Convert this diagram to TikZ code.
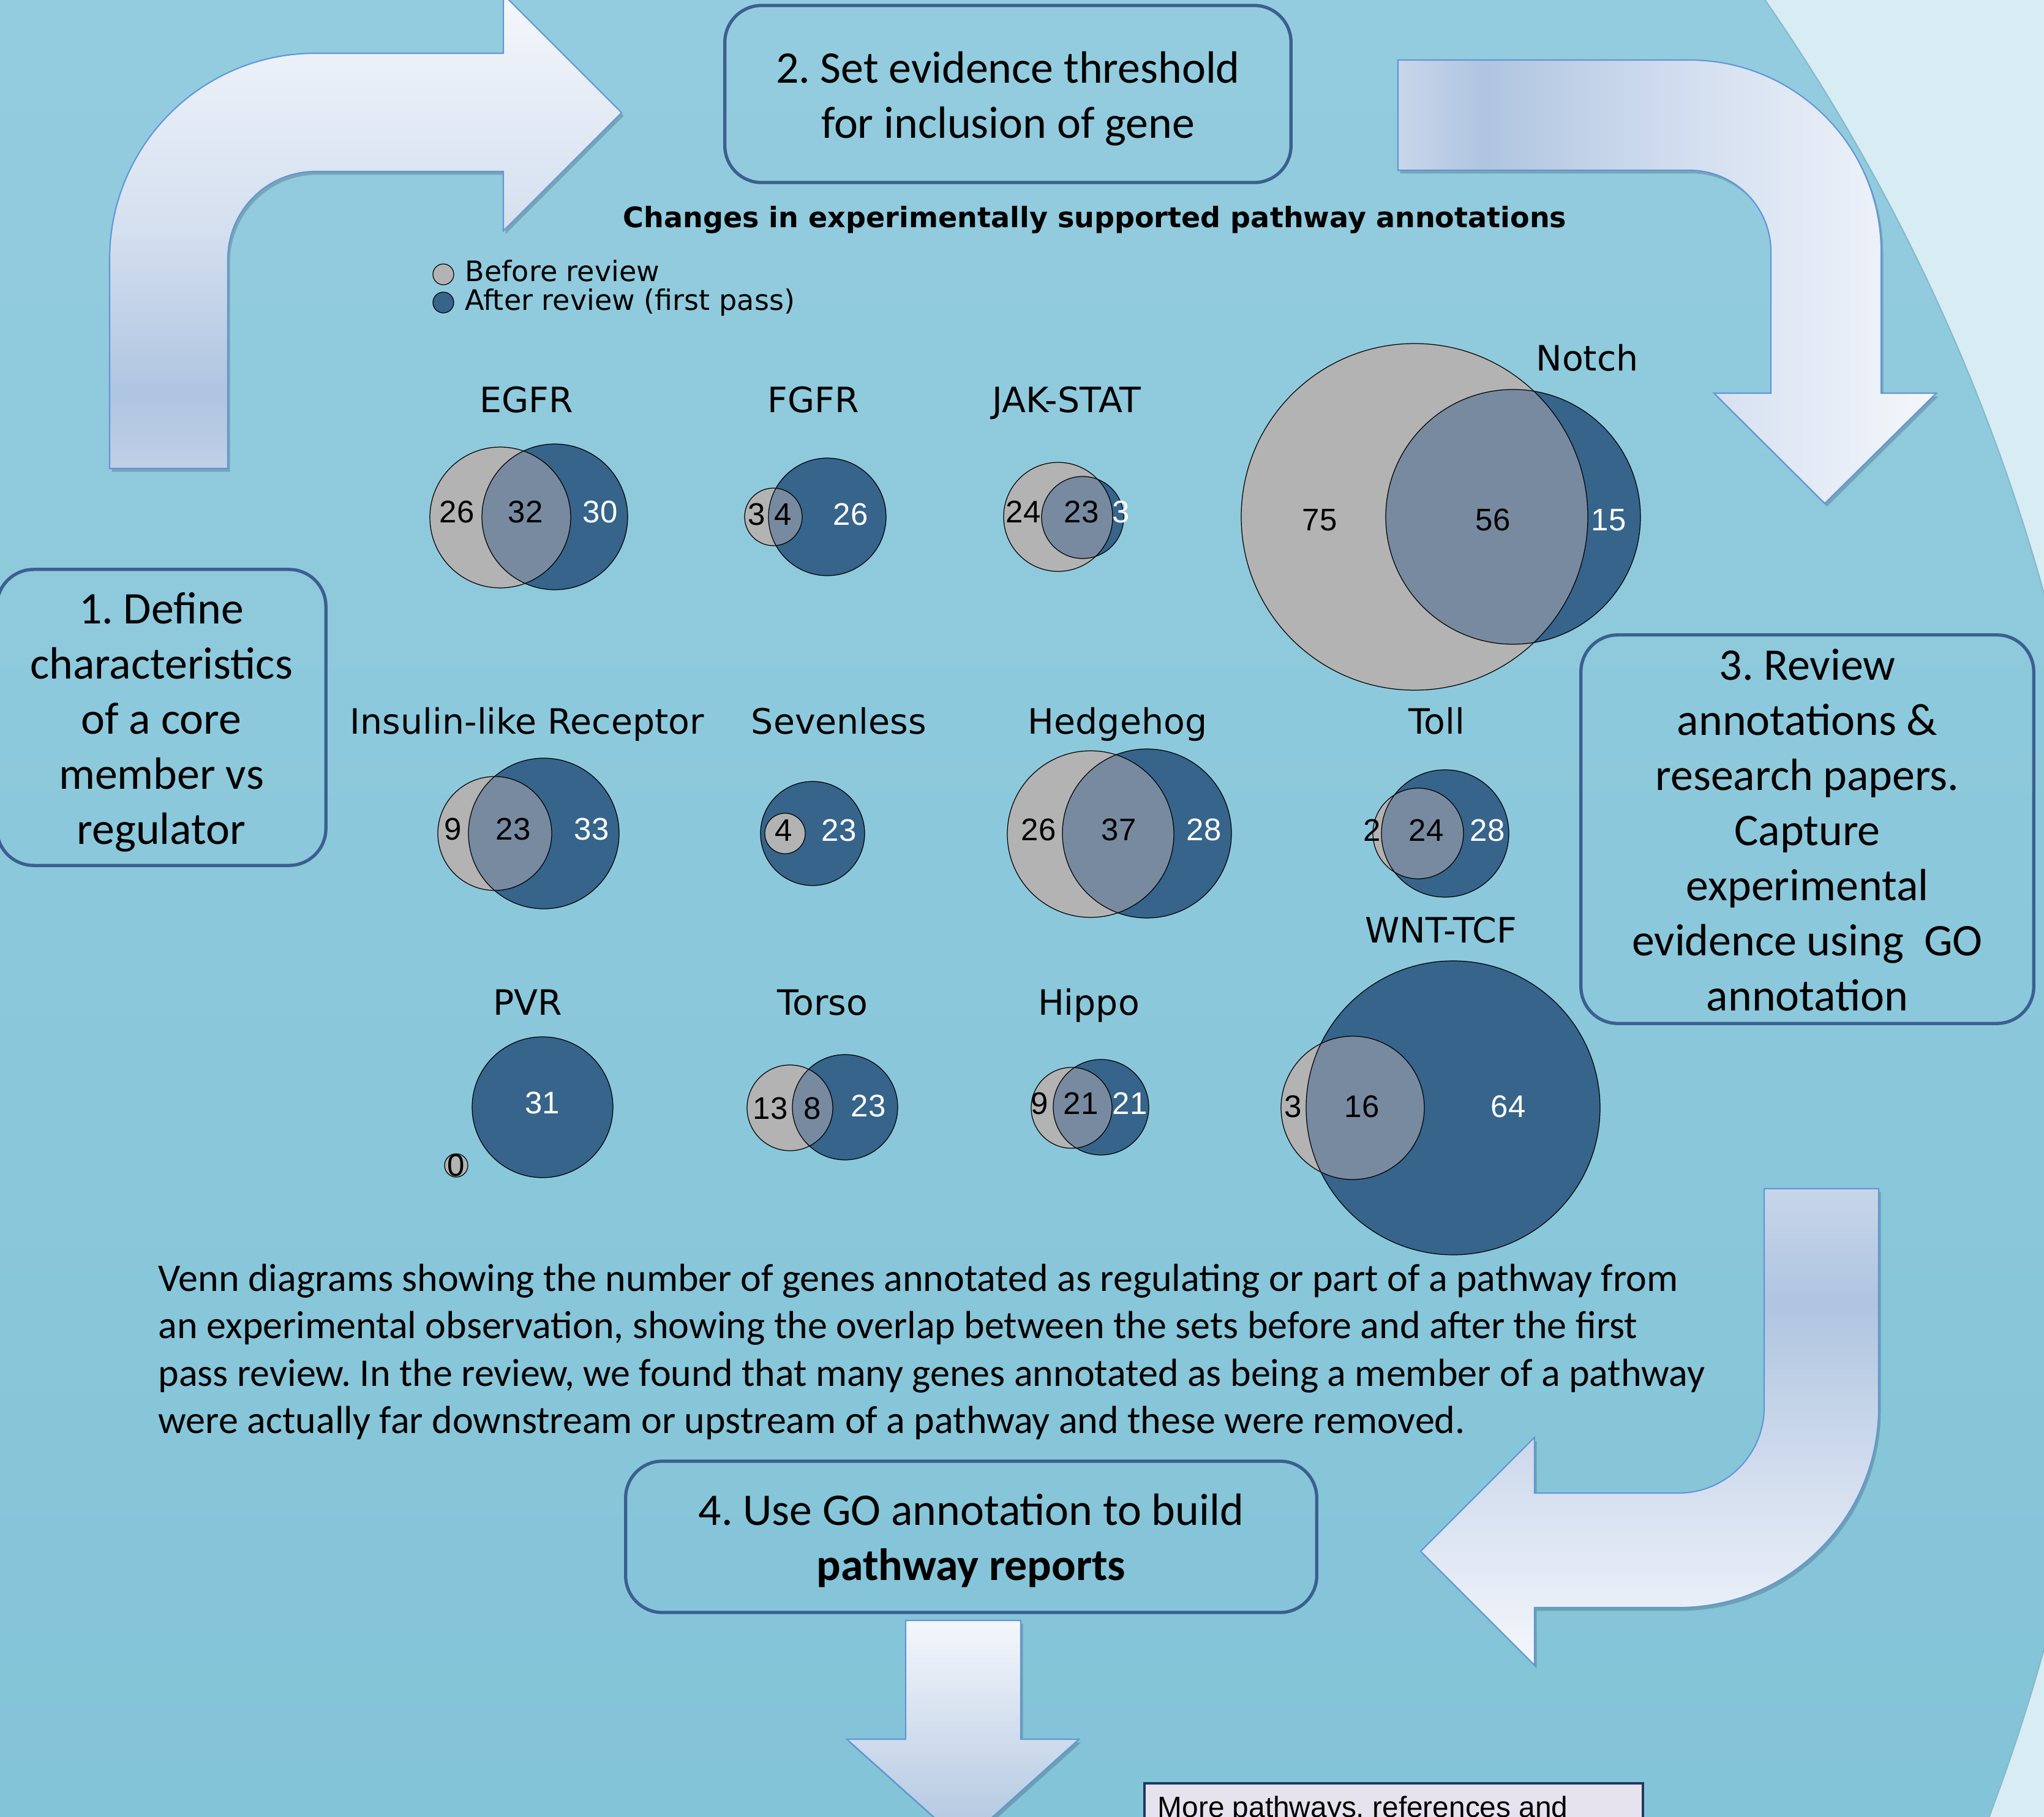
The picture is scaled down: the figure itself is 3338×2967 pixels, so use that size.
\documentclass[tikz,border=0pt]{standalone}
\usepackage{fontspec}
\setmainfont{Carlito}
\newfontfamily\dvs{DejaVu Sans}
\newfontfamily\lsans{Liberation Sans}
\frenchspacing
\definecolor{bgtop}{HTML}{93CCDE}
\definecolor{bgbot}{HTML}{84C4D8}
\definecolor{bglight}{HTML}{D8ECF3}
\definecolor{bgedge}{HTML}{86B9CB}
\definecolor{vgrey}{HTML}{B3B3B3}
\definecolor{vblue}{HTML}{36648B}
\definecolor{vover}{HTML}{788AA0}
\definecolor{boxline}{HTML}{3B5F90}
\definecolor{arrline}{HTML}{6196D6}
\definecolor{arrdark}{HTML}{AFC5E0}
\definecolor{arrlight}{HTML}{F4F7FC}
\definecolor{arrAbot}{HTML}{C0D0E7}
\definecolor{arrAmid}{HTML}{D4DFEF}
\definecolor{arrBleft}{HTML}{C9D6EB}
\definecolor{arrBmid}{HTML}{D0DCEE}
\definecolor{arrCtop}{HTML}{C7D5EA}
\definecolor{arrCmid}{HTML}{D2DDEE}
\definecolor{morefill}{HTML}{E6E2EE}
\definecolor{moreline}{HTML}{1F3A5F}
\pgfdeclareverticalshading{arrAsh}{100bp}{color(0bp)=(arrAbot); color(25bp)=(arrAbot); color(33bp)=(arrdark); color(50bp)=(arrAmid); color(75bp)=(arrlight); color(100bp)=(arrlight)}
\pgfdeclarehorizontalshading{arrBsh}{100bp}{color(0bp)=(arrBleft); color(25bp)=(arrBleft); color(33bp)=(arrdark); color(50bp)=(arrBmid); color(75bp)=(arrlight); color(100bp)=(arrlight)}
\pgfdeclareverticalshading{arrCsh}{100bp}{color(0bp)=(arrlight); color(25bp)=(arrlight); color(45bp)=(arrCmid); color(63bp)=(arrdark); color(75bp)=(arrCtop); color(100bp)=(arrCtop)}
\tikzset{
  stepbox/.style={draw=boxline, line width=1.5pt, rounded corners=0.6cm, inner sep=0pt},
  steptext/.style={align=center, font=\fontsize{21}{25.6}\selectfont, inner sep=0pt},
  pwlabel/.style={font=\dvs\fontsize{16.2}{19}\selectfont, anchor=base, inner sep=0pt},
  legtext/.style={font=\dvs\fontsize{13.1}{16}\selectfont, anchor=base west, inner sep=0pt},
  num/.style={font=\lsans\fontsize{14.5}{17}\selectfont, inner sep=0pt},
  wnum/.style={num, text=white},
  arrowshape/.style={draw=arrline, line width=0.6pt,
    preaction={fill=black, fill opacity=0.18, transform canvas={xshift=1pt, yshift=-1.5pt}}},
  vline/.style={draw=black, line width=0.35pt},
  captext/.style={font=\fontsize{18.2}{21.9}\selectfont, anchor=base west, inner sep=0pt},
}
\newcommand\vennpair[6]{%
  \fill[vgrey] (#1,#2) circle (#3);
  \fill[vblue] (#4,#5) circle (#6);
  \begin{scope}\clip (#1,#2) circle (#3); \fill[vover] (#4,#5) circle (#6);\end{scope}
  \draw[vline] (#1,#2) circle (#3);
  \draw[vline] (#4,#5) circle (#6);
}
\begin{document}
\begin{tikzpicture}[x=0.01cm,y=-0.01cm]
\useasboundingbox (0,0) rectangle (3338,2967);
\clip (0,0) rectangle (3338,2967);
% background
\fill[bglight] (0,0) rectangle (3338,2967);
\begin{scope}
  \clip (243,1831) circle (3212);
  \shade[top color=bgtop, bottom color=bgbot] (0,0) rectangle (3338,2967);
\end{scope}
\draw[bgedge, line width=0.6pt] (243,1831) circle (3212);

% arrow A (top left, up then right)
\shade[shading=arrAsh, arrowshape] (179,765) -- (179,423) arc (180:270:336) -- (822,87) -- (822,-9)
  -- (1015,184) -- (822,377) -- (822,280) -- (515,280) arc (270:180:143) -- (372,765) -- cycle;
% arrow B (top right, right then down)
\shade[shading=arrBsh, arrowshape] (2283,98) -- (2759,98) arc (270:360:313) -- (3072,642) -- (3162,642)
  -- (2980,822) -- (2799,642) -- (2892,642) -- (2892,411) arc (0:-90:133) -- (2283,278) -- cycle;
% arrow C (bottom right, down then left)
\shade[shading=arrCsh, arrowshape] (2881,1941) -- (3068,1941) -- (3068,2298) arc (0:90:327) -- (2506,2625)
  -- (2506,2719) -- (2320,2533) -- (2506,2347) -- (2506,2438) -- (2741,2438) arc (90:0:140) -- cycle;
% arrow D (bottom centre, down)
\shade[top color=arrlight, bottom color=arrdark, arrowshape] (1479,2646) -- (1667,2646) -- (1667,2840)
  -- (1762,2840) -- (1573,3010) -- (1383,2840) -- (1479,2840) -- cycle;

% step boxes
\node[stepbox, minimum width=9.24cm, minimum height=2.89cm] (s2) at (1646,153.5) {};
\node[steptext] (s2t) at (1646,161) {2. Set evidence threshold\\for inclusion of gene};
\node[stepbox, minimum width=5.37cm, minimum height=4.83cm] (s1) at (263.5,1171.5) {};
\node[steptext] (s1t) at (263.5,1179) {1. Define\\characteristics\\of a core\\member vs\\regulator};
\node[stepbox, minimum width=7.39cm, minimum height=6.34cm] (s3) at (2951.5,1354) {};
\node[steptext] (s3t) at (2951.5,1355) {3. Review\\annotations \&\\research papers.\\Capture\\experimental\\evidence using\ \ GO\\annotation};
\node[stepbox, minimum width=11.28cm, minimum height=2.47cm] (s4) at (1586,2509.5) {};
\node[steptext] (s4t) at (1586,2516) {4. Use GO annotation to build\\\textbf{pathway reports}};

% title and legend
\node[font=\dvs\bfseries\fontsize{13.1}{16}\selectfont, anchor=base, inner sep=0pt] (title) at (1788,372)
  {Changes in experimentally supported pathway annotations};
\filldraw[fill=vgrey, vline] (724,448) circle (17);
\filldraw[fill=vblue, vline] (724,494) circle (17);
\node[legtext] (legB) at (759,460) {Before review};
\node[legtext] (legA) at (759,507) {After review (first pass)};

% Venn diagrams
\vennpair{817}{845}{115}{906}{844}{119}
\vennpair{1263}{844}{47}{1351}{844}{96}
\vennpair{1728}{844}{89}{1768}{845}{67}
\vennpair{2310}{844}{283}{2471}{844}{208}
\vennpair{808}{1361}{93}{888}{1361}{123}
\filldraw[fill=vblue, vline] (1327,1361) circle (85);
\filldraw[fill=vgrey, vline] (1282,1361) circle (33);
\vennpair{1781}{1362}{136}{1873}{1361}{138}
\vennpair{2316}{1361}{74}{2360}{1361}{104}
\vennpair{745}{1903}{19}{886}{1808}{115}
\vennpair{1290}{1809}{70}{1380}{1808}{86}
\vennpair{1750}{1809}{66}{1798}{1808}{78}
\vennpair{2209}{1809}{117}{2373}{1809}{240}

% pathway labels
\node[pwlabel] (lEGFR) at (860,673) {EGFR};
\node[pwlabel] (lFGFR) at (1328,673) {FGFR};
\node[pwlabel] (lJAK) at (1742,673) {JAK-STAT};
\node[pwlabel] (lNotch) at (2592,606) {Notch};
\node[pwlabel] (lIns) at (861,1198) {Insulin-like Receptor};
\node[pwlabel] (lSev) at (1370,1198) {Sevenless};
\node[pwlabel] (lHh) at (1825,1198) {Hedgehog};
\node[pwlabel] (lToll) at (2346,1198) {Toll};
\node[pwlabel] (lWnt) at (2353,1539) {WNT-TCF};
\node[pwlabel] (lPVR) at (862,1657) {PVR};
\node[pwlabel] (lTorso) at (1343,1657) {Torso};
\node[pwlabel] (lHippo) at (1778,1657) {Hippo};

% numbers
\node[num] (n1a) at (746,836) {26};
\node[num] (n1b) at (858,836) {32};
\node[wnum] (n1c) at (980,836) {30};
\node[num] (n2a) at (1236,840) {3};
\node[num] (n2b) at (1279,840) {4};
\node[wnum] (n2c) at (1389,840) {26};
\node[num] (n3a) at (1671,836) {24};
\node[num] (n3b) at (1766,836) {23};
\node[wnum] (n3c) at (1831,836) {3};
\node[num] (n4a) at (2155,849) {75};
\node[num] (n4b) at (2438,849) {56};
\node[wnum] (n4c) at (2627,849) {15};
\node[num] (n5a) at (740,1354) {9};
\node[num] (n5b) at (838,1354) {23};
\node[wnum] (n5c) at (966,1354) {33};
\node[num] (n6a) at (1280,1356) {4};
\node[wnum] (n6b) at (1370,1356) {23};
\node[num] (n7a) at (1696,1355) {26};
\node[num] (n7b) at (1827,1355) {37};
\node[wnum] (n7c) at (1966,1355) {28};
\node[num] (n8a) at (2241,1356) {2};
\node[num] (n8b) at (2329,1356) {24};
\node[wnum] (n8c) at (2429,1356) {28};
\node[wnum] (n9a) at (886,1801) {31};
\node[num] (n9b) at (745,1903) {0};
\node[num] (n10a) at (1258,1810) {13};
\node[num] (n10b) at (1327,1810) {8};
\node[wnum] (n10c) at (1418,1806) {23};
\node[num] (n11a) at (1698,1802) {9};
\node[num] (n11b) at (1765,1802) {21};
\node[wnum] (n11c) at (1845,1802) {21};
\node[num] (n12a) at (2112,1807) {3};
\node[num] (n12b) at (2224,1807) {16};
\node[wnum] (n12c) at (2463,1807) {64};

% caption
\node[captext] (cap1) at (258,2108) {Venn diagrams showing the number of genes annotated as regulating or part of a pathway from};
\node[captext] (cap2) at (258,2185) {an experimental observation, showing the overlap between the sets before and after the first};
\node[captext] (cap3) at (258,2263) {pass review. In the review, we found that many genes annotated as being a member of a pathway};
\node[captext] (cap4) at (258,2340) {were actually far downstream or upstream of a pathway and these were removed.};

% more pathways box
\draw[fill=morefill, draw=moreline, line width=1pt] (1869,2912) rectangle (2683,3050);
\node[font=\lsans\fontsize{13.6}{16}\selectfont, anchor=base west, inner sep=0pt] (more) at (1890,2967)
  {More pathways, references and};
\end{tikzpicture}
\end{document}
